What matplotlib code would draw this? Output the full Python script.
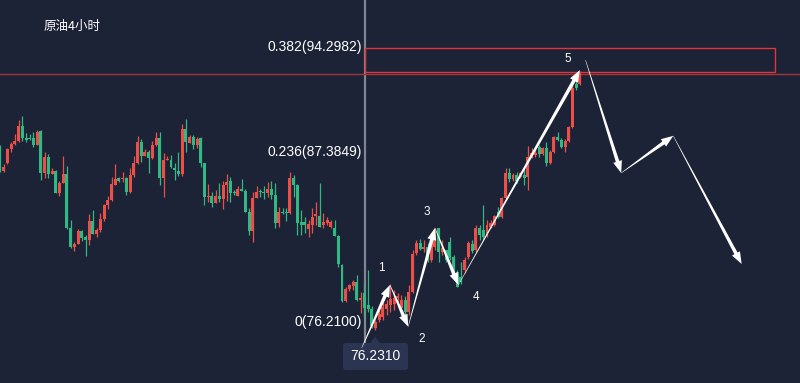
import matplotlib
matplotlib.use('Agg')
import matplotlib.pyplot as plt
import numpy as np
from matplotlib.patches import Polygon, Rectangle, FancyBboxPatch
from matplotlib.transforms import IdentityTransform

title = '原油4小时'

opens = [88.20, 86.69, 87.22, 88.14, 88.47, 88.66, 89.65, 88.86, 88.86, 88.86,
         88.40, 89.32, 86.56, 87.61, 86.49, 86.69, 85.24, 85.90, 86.49, 82.94,
         81.69, 81.89, 82.74, 82.35, 82.15, 83.40, 82.55, 82.81, 83.53, 84.45,
         84.78, 85.77, 86.23, 86.16, 86.23, 85.31, 86.43, 87.22, 88.60, 87.68,
         87.94, 87.55, 88.40, 88.86, 86.23, 87.41, 87.41, 86.89, 86.69, 86.49,
         89.45, 88.53, 88.93, 88.40, 88.86, 87.22, 84.98, 85.05, 84.58, 85.05,
         84.85, 85.77, 86.03, 85.31, 85.05, 85.51, 85.38, 84.00, 82.74, 84.91,
         85.38, 85.31, 85.24, 85.51, 85.11, 83.27, 84.00, 84.00, 83.93, 86.23,
         85.77, 83.34, 83.34, 82.87, 83.14, 83.73, 83.73, 83.14, 83.27, 83.01,
         82.94, 82.41, 80.51, 78.14, 78.93, 79.12, 79.39, 78.20, 78.66, 77.87,
         77.61, 76.36, 76.89, 77.09, 77.61, 77.87, 77.94, 78.33, 77.68, 78.20,
         77.41, 78.73, 81.30, 81.95, 81.56, 81.69, 80.83, 81.69, 82.94, 81.36,
         81.49, 82.02, 81.03, 80.05, 79.72, 80.18, 81.03, 81.89, 81.49, 82.94,
         82.81, 82.48, 83.01, 83.14, 84.00, 83.66, 84.91, 86.56, 86.16, 86.43,
         86.30, 86.43, 86.30, 87.61, 87.74, 88.27, 87.81, 88.20, 87.22, 87.94,
         88.93, 88.73, 88.27, 88.66, 89.58, 92.41, 92.41]

highs = [88.40, 87.15, 88.20, 88.60, 89.12, 90.05, 90.31, 89.19, 89.12, 89.26,
         89.39, 89.39, 87.94, 87.81, 86.89, 86.76, 86.03, 87.68, 87.02, 83.47,
         82.02, 82.87, 82.81, 82.48, 83.86, 84.12, 82.94, 83.93, 84.52, 85.05,
         86.30, 87.15, 86.30, 86.62, 86.30, 86.89, 87.68, 88.99, 88.79, 88.14,
         88.07, 88.66, 89.26, 89.26, 87.87, 87.68, 87.74, 87.22, 87.94, 89.78,
         90.11, 89.06, 89.06, 88.93, 88.93, 87.22, 85.83, 85.31, 85.44, 85.90,
         86.03, 86.49, 86.30, 85.44, 85.70, 86.16, 85.51, 84.26, 85.31, 85.70,
         85.51, 85.70, 85.97, 86.03, 85.90, 84.32, 84.26, 84.26, 86.62, 86.43,
         85.83, 84.12, 83.66, 83.47, 84.26, 84.65, 85.90, 83.93, 83.66, 83.47,
         83.47, 82.48, 80.57, 79.06, 79.26, 79.52, 79.85, 78.73, 79.26, 80.18,
         77.81, 76.89, 77.55, 78.07, 78.20, 79.26, 78.86, 78.66, 78.53, 78.47,
         79.19, 81.49, 82.15, 82.22, 82.15, 81.95, 82.48, 82.94, 82.94, 82.15,
         81.49, 82.35, 81.16, 80.18, 80.70, 81.03, 82.08, 82.15, 83.14, 83.14,
         84.45, 83.47, 83.47, 83.79, 84.32, 84.98, 86.89, 86.89, 86.56, 86.62,
         86.62, 86.89, 88.33, 88.20, 88.07, 88.40, 88.27, 88.60, 88.07, 88.99,
         89.26, 88.86, 88.79, 89.65, 92.35, 92.68, 93.27]

lows = [86.62, 86.62, 87.15, 87.94, 88.40, 88.60, 88.66, 88.60, 88.76, 88.27,
        88.40, 86.10, 86.23, 86.23, 86.49, 85.24, 85.05, 85.90, 82.87, 81.62,
        81.43, 81.89, 82.08, 81.10, 81.82, 82.55, 82.35, 82.68, 83.40, 84.19,
        84.71, 85.77, 85.97, 85.97, 85.11, 85.24, 86.30, 87.15, 87.28, 87.68,
        86.56, 87.48, 88.33, 85.77, 84.98, 87.41, 86.89, 86.10, 86.36, 86.36,
        87.94, 88.53, 88.14, 88.20, 86.95, 84.45, 84.65, 84.32, 84.58, 84.65,
        84.19, 84.71, 84.65, 85.11, 85.05, 85.38, 84.00, 82.48, 82.02, 84.91,
        84.98, 84.85, 84.98, 84.85, 82.94, 83.01, 83.86, 83.40, 83.86, 84.98,
        82.48, 82.48, 82.61, 82.35, 82.61, 83.14, 83.01, 82.94, 83.14, 82.94,
        82.41, 80.37, 78.07, 78.07, 78.80, 78.86, 78.14, 77.35, 77.09, 77.41,
        76.36, 76.23, 76.76, 76.89, 77.22, 77.41, 77.55, 78.07, 77.22, 77.02,
        77.22, 78.66, 81.16, 81.49, 81.36, 80.70, 80.70, 81.49, 80.70, 81.16,
        80.70, 80.83, 80.05, 79.06, 79.26, 79.98, 80.90, 81.30, 81.36, 82.15,
        82.15, 82.35, 82.94, 83.08, 83.60, 83.60, 84.78, 85.97, 86.03, 85.90,
        86.23, 85.77, 85.44, 87.55, 87.61, 87.61, 87.74, 87.02, 87.15, 87.87,
        88.66, 88.20, 87.94, 88.60, 89.52, 92.02, 92.35]

closes = [86.76, 86.95, 88.14, 88.47, 88.66, 89.65, 88.86, 88.73, 88.80, 88.40,
          89.26, 86.56, 87.61, 86.49, 86.69, 85.24, 85.90, 86.49, 82.94, 81.69,
          81.89, 82.74, 82.28, 82.15, 83.40, 82.55, 82.81, 83.53, 84.45, 84.78,
          85.83, 86.16, 86.03, 86.23, 85.31, 86.43, 87.22, 88.60, 87.68, 87.94,
          87.55, 88.40, 88.86, 86.23, 87.41, 87.48, 86.95, 86.76, 86.49, 89.45,
          88.60, 88.93, 88.40, 88.79, 87.22, 84.98, 85.05, 84.58, 85.05, 84.85,
          85.77, 85.97, 85.24, 85.24, 85.51, 85.38, 84.00, 82.74, 84.91, 85.31,
          85.31, 85.24, 85.51, 85.11, 83.27, 84.00, 83.93, 83.93, 86.23, 85.77,
          83.27, 83.14, 83.14, 83.20, 83.66, 83.86, 83.01, 83.34, 83.47, 83.34,
          82.41, 80.57, 78.14, 78.93, 79.19, 79.39, 78.20, 78.33, 77.68, 77.61,
          76.49, 76.76, 77.28, 77.74, 77.94, 78.27, 78.33, 78.47, 78.20, 77.41,
          78.73, 81.23, 81.95, 81.56, 81.69, 80.83, 82.35, 82.81, 81.36, 81.62,
          80.83, 80.97, 80.18, 79.06, 79.39, 80.83, 81.95, 81.43, 82.94, 82.48,
          82.35, 83.14, 83.27, 83.73, 83.66, 84.91, 86.56, 86.16, 86.43, 86.03,
          86.56, 86.23, 87.61, 87.87, 87.87, 87.81, 88.20, 87.22, 87.94, 88.93,
          88.73, 88.27, 88.66, 89.58, 92.15, 92.15, 93.14]

fib_levels = [94.2982, 87.3849, 76.2100]
fib_labels = ['0.382(94.2982)', '0.236(87.3849)', '0(76.2100)']
low_label = '76.2310'

wave_names = ['', '1', '2', '3', '4', '5']
wave_x = [97.3, 104.9, 109.8, 117.0, 123.3, 156.0]
wave_y = [75.05, 79.19, 76.45, 82.94, 79.19, 93.33]
proj_x = [157.5, 167.1, 181.1, 199.5]
proj_y = [93.99, 86.56, 89.00, 80.57]

BG = '#1c2336'
UP = '#eb4f47'
DOWN = '#30b982'
LABEL_FONT = ['Liberation Sans', 'DejaVu Sans']

fig = plt.figure(figsize=(8, 3.83), dpi=100, facecolor=BG)
ax = fig.add_axes([0, 0, 1, 1])
ax.set_facecolor(BG)
ax.set_xlim(0, 215.2)
ax.set_ylim(72.74, 97.94)
ax.axis('off')

o = np.array(opens); h = np.array(highs); l = np.array(lows); c = np.array(closes)
idx = np.arange(len(o))
cols = np.where(c >= o, UP, DOWN)
ax.vlines(idx, l, h, colors=cols, linewidth=0.9, zorder=2)
bottom = np.minimum(o, c)
height = np.maximum(np.abs(c - o), 0.07)
ax.bar(idx, height, bottom=bottom, width=0.8, color=cols, linewidth=0, zorder=3)

# crosshair vertical line, reference line and resistance box
ax.plot([98.2, 98.2], [75.24, 97.94], color='#80858f', lw=1.6, zorder=1)
ax.axhline(93.07, color='#a33539', lw=1.0, zorder=1)
ax.add_patch(Rectangle((98.2, 93.20), 110.3, 1.58, fill=False,
                       edgecolor='#e0353b', lw=1.0, zorder=4))

# fib labels
for lvl, txt in zip(fib_levels, fib_labels):
    ax.annotate(txt, (97.4, lvl), xytext=(0, 8.5), textcoords='offset pixels',
                ha='right', va='center', color='white', fontsize=10,
                family=LABEL_FONT, zorder=6)

fig.text(44 / 800, 1 - 26 / 383, title, ha='left', va='center', color='white',
         fontsize=9, family=['Noto Sans CJK SC', 'DejaVu Sans'])


def tapered(x0, y0, x1, y1, w0=0.4, w1=3.6, hl=12, hw=9):
    p0 = ax.transData.transform((x0, y0))
    p1 = ax.transData.transform((x1, y1))
    d = p1 - p0
    u = d / np.hypot(*d)
    nrm = np.array([-u[1], u[0]])
    base = p1 - u * hl
    pts = [p0 + nrm * w0 / 2, base + nrm * w1 / 2, base + nrm * hw / 2, p1,
           base - nrm * hw / 2, base - nrm * w1 / 2, p0 - nrm * w0 / 2]
    fig.add_artist(Polygon(pts, closed=True, transform=IdentityTransform(),
                           facecolor='white', edgecolor='none', zorder=5))


for i in range(len(wave_x) - 1):
    tapered(wave_x[i], wave_y[i], wave_x[i + 1], wave_y[i + 1])
for i in range(len(proj_x) - 1):
    tapered(proj_x[i], proj_y[i], proj_x[i + 1], proj_y[i + 1])

label_offsets = [(0, 0), (-9, 17), (14, -12), (-8, 16), (18, -12), (-12, 11)]
for name, wx, wy, off in zip(wave_names, wave_x, wave_y, label_offsets):
    if name:
        ax.annotate(name, (wx, wy), xytext=off, textcoords='offset pixels',
                    ha='center', va='center', color='white', fontsize=8.5,
                    family=LABEL_FONT, zorder=6)

# low price tag
box_col = '#2b3551'
fig.add_artist(FancyBboxPatch((343, 383 - 370), 65, 27,
                              boxstyle='round,pad=0,rounding_size=3',
                              transform=IdentityTransform(), facecolor=box_col,
                              edgecolor='none', zorder=4))
fig.add_artist(Polygon([(370, 383 - 343), (380, 383 - 343), (375, 383 - 337)],
                       transform=IdentityTransform(), facecolor=box_col,
                       edgecolor='none', zorder=4))
fig.text(375.5 / 800, 1 - 356.5 / 383, low_label, ha='center', va='center',
         color='white', fontsize=10, family=LABEL_FONT, zorder=6)

fig.savefig('out.png', dpi=100, facecolor=BG)
